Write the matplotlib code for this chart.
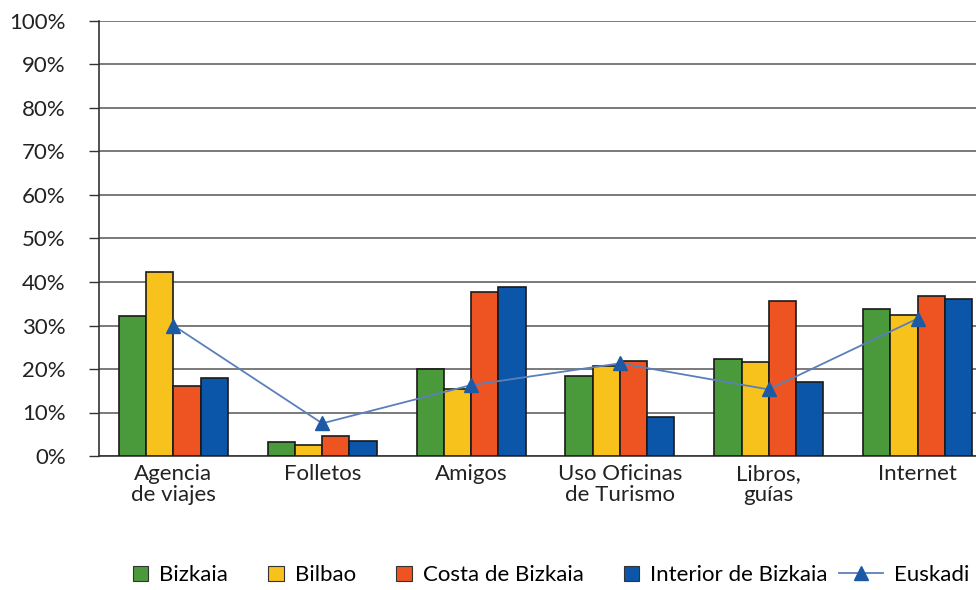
import numpy as np
import matplotlib.pyplot as plt
import matplotlib.patches as mpatches
from matplotlib.legend_handler import HandlerPatch
from matplotlib.ticker import FuncFormatter

plt.rcParams["font.family"] = ["Lato", "DejaVu Sans"]

categories = ["Agencia\nde viajes", "Folletos", "Amigos",
              "Uso Oficinas\nde Turismo", "Libros,\nguías", "Internet"]
series_names = ["Bizkaia", "Bilbao", "Costa de Bizkaia", "Interior de Bizkaia"]
bizkaia = [32.1, 3.3, 19.9, 18.4, 22.2, 33.8]
bilbao = [42.3, 2.5, 15.3, 20.7, 21.5, 32.5]
costa = [16.0, 4.7, 37.7, 21.8, 35.6, 36.8]
interior = [18.0, 3.5, 38.8, 9.0, 16.9, 36.0]
euskadi = [30.0, 7.5, 16.3, 21.3, 15.3, 31.6]

colors = ["#4a9a3c", "#f8c21c", "#ee5322", "#0b56a8"]


def square_patch(legend, orig_handle, xdescent, ydescent, width, height, fontsize):
    # small square sitting just before the label text
    return mpatches.Rectangle((width - height - xdescent, -ydescent), height, height)


fig = plt.figure(figsize=(9.76, 5.90), dpi=100)
# axes deliberately runs past the right edge, as in the original
ax = fig.add_axes([99 / 976, 134 / 590, 893 / 976, 435 / 590])

x = np.arange(len(categories))
width = 0.183
for i, vals in enumerate([bizkaia, bilbao, costa, interior]):
    ax.bar(x + (i - 1.5) * width, vals, width, color=colors[i], edgecolor="#1a1a1a",
           linewidth=1.2, zorder=3)

line, = ax.plot(x, euskadi, color="#5a80bb", linewidth=1.3, marker="^", markersize=10,
                markerfacecolor="#1d5aa6", markeredgecolor="#1d5aa6", zorder=4)

ax.set_xlim(-0.5, len(categories) - 0.5)
ax.set_ylim(0, 100)
ax.set_yticks(np.arange(0, 101, 10))
ax.yaxis.set_major_formatter(FuncFormatter(lambda v, p: f"{v:.0f}%"))
ax.grid(axis="y", color="#7a7a7a", linewidth=1.4, zorder=0)
ax.set_xticks(x)
ax.set_xticklabels(categories, fontsize=16, color="#222222", linespacing=1.05)
ax.tick_params(axis="x", length=0, pad=6)
ax.tick_params(axis="y", length=7, width=1, color="#333333", labelsize=16,
               labelcolor="#222222", pad=17)
for s in ["top", "right"]:
    ax.spines[s].set_visible(False)
ax.spines["left"].set_color("#333333")
ax.spines["bottom"].set_color("#333333")
ax.spines["left"].set_linewidth(1.2)
ax.spines["bottom"].set_linewidth(1.2)

handles = [mpatches.Patch(facecolor=c, edgecolor="#333333", linewidth=0.8) for c in colors]
handles.append(line)
labels = series_names + ["Euskadi"]
fig.legend(handles, labels, loc="center", bbox_to_anchor=(0.55, 0.025), ncol=5,
           frameon=False, fontsize=16, handlelength=2.0, columnspacing=0.5,
           handletextpad=0.5,
           handler_map={mpatches.Patch: HandlerPatch(patch_func=square_patch)})

fig.savefig("out.png", dpi=100)
